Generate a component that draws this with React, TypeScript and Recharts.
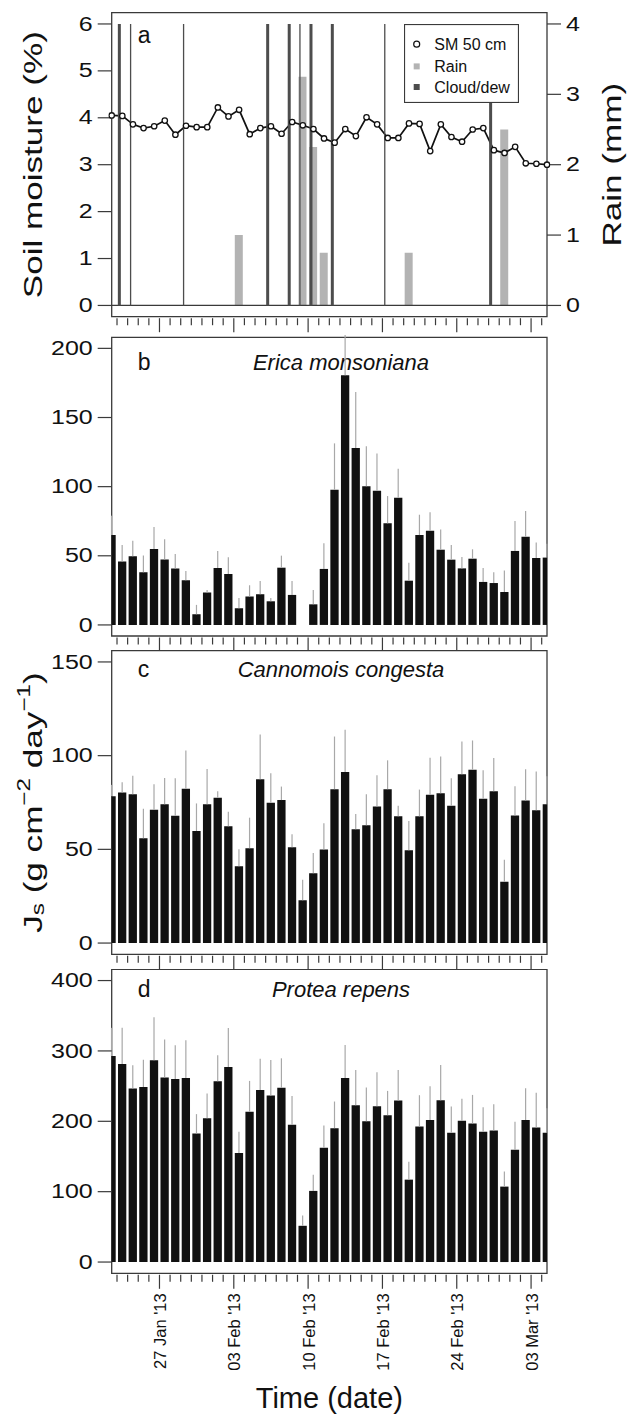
import React from 'react';
import {
  ComposedChart, Bar, Line, XAxis, YAxis, ErrorBar,
  ReferenceLine, ReferenceArea, Legend,
} from 'recharts';

const FONT = '"Liberation Sans", Arial, Helvetica, sans-serif';
const INK = '#111111';
const FRAME = '#3a3a3a';
const RAIN = '#b3b3b3';
const CLOUD = '#4d4d4d';
const ERR = '#a8a8a8';

// x = day number, 0 = 22 Jan 2013 ... 41 = 04 Mar 2013 (bar centres at noon)
const days = [
  0, 1, 2, 3, 4, 5, 6, 7, 8, 9, 10, 11, 12, 13, 14, 15, 16, 17, 18, 19, 20,
  21, 22, 23, 24, 25, 26, 27, 28, 29, 30, 31, 32, 33, 34, 35, 36, 37, 38, 39, 40, 41,
];
// midnight boundaries between days
const dayBoundaries = [
  0.5, 1.5, 2.5, 3.5, 4.5, 5.5, 6.5, 7.5, 8.5, 9.5, 10.5, 11.5, 12.5, 13.5, 14.5,
  15.5, 16.5, 17.5, 18.5, 19.5, 20.5, 21.5, 22.5, 23.5, 24.5, 25.5, 26.5, 27.5,
  28.5, 29.5, 30.5, 31.5, 32.5, 33.5, 34.5, 35.5, 36.5, 37.5, 38.5, 39.5, 40.5,
];
const majorTicks = [4.5, 11.5, 18.5, 25.5, 32.5, 39.5];
const majorTickLabels = ["27 Jan '13", "03 Feb '13", "10 Feb '13", "17 Feb '13", "24 Feb '13", "03 Mar '13"];

// panel a
const soilMoisture = [
  4.05, 4.04, 3.86, 3.78, 3.82, 3.94, 3.64, 3.83, 3.80, 3.80, 4.22, 4.03, 4.17, 3.65,
  3.78, 3.82, 3.66, 3.91, 3.84, 3.76, 3.56, 3.47, 3.76, 3.61, 4.01, 3.86, 3.57, 3.57,
  3.88, 3.87, 3.29, 3.86, 3.59, 3.49, 3.75, 3.78, 3.31, 3.25, 3.38, 3.03, 3.02, 3.00,
];
const rainMm = [
  0, 0, 0, 0, 0, 0, 0, 0, 0, 0, 0, 0, 1.0, 0, 0, 0, 0, 0, 3.25, 2.25, 0.75,
  0, 0, 0, 0, 0, 0, 0, 0.75, 0, 0, 0, 0, 0, 0, 0, 0, 2.5, 0, 0, 0, 0,
];
const cloudDewTime = [0.72, 1.78, 6.77, 14.69, 16.72, 17.73, 18.77, 20.78, 25.72, 35.69];
const cloudDewHeavy = [true, false, false, true, true, false, true, true, false, true];
const legendLabels = ['SM 50 cm', 'Rain', 'Cloud/dew'];

// panels b-d: daily mean Js and standard error
const ericaJs = [
  65.0, 45.8, 49.6, 38.1, 54.9, 47.4, 40.9, 32.3, 7.7, 23.4, 41.2, 36.8, 12.0, 20.5,
  22.2, 17.1, 41.4, 21.7, 0, 14.9, 40.5, 97.8, 180.6, 127.9, 100.2, 97.1, 73.5, 92.0,
  32.0, 65.0, 68.2, 54.4, 47.2, 40.9, 47.9, 31.1, 30.3, 23.8, 53.5, 63.8, 48.4, 48.7,
];
const ericaSe = [
  14, 12.0, 11.3, 12.2, 15.9, 14.5, 10.4, 6.7, 6.8, 1.9, 12.3, 12.1, 7.5, 8.2,
  9.6, 2.4, 8.7, 10.1, 8.4, 10.4, 18.5, 33.5, 33, 40.5, 29.1, 26.9, 19.7, 21.0,
  13.0, 14.7, 13.2, 14.7, 10.6, 8.2, 6.8, 10.1, 7.8, 15.5, 21.6, 18.6, 11.3, 10,
];
const cannomoisJs = [
  78.4, 80.3, 79.4, 55.9, 71.1, 74.0, 67.9, 82.3, 59.8, 74.0, 77.5, 62.3, 41.0, 50.6,
  87.4, 74.8, 76.3, 51.1, 22.8, 37.2, 49.9, 82.1, 91.3, 60.7, 62.8, 72.9, 82.1, 67.6,
  49.5, 67.6, 79.1, 80.0, 73.2, 90.1, 92.5, 77.0, 81.0, 32.7, 68.1, 76.1, 70.9, 74.0,
];
const cannomoisSe = [
  6, 5.5, 9.9, 15.8, 13.6, 14.1, 20.0, 20.5, 14.7, 18.9, 3.5, 7.8, 9.1, 16.3,
  23.9, 15.8, 7.2, 6.9, 11.0, 10.9, 14.0, 28.1, 22.5, 8.1, 16.6, 16.6, 15.4, 5.6,
  15.6, 14.3, 19.8, 19.6, 14.7, 17.5, 15.6, 15.2, 17.7, 11.7, 15.6, 16.6, 20.6, 15,
];
const proteaJs = [
  292.8, 281.5, 246.5, 248.9, 286.7, 262.1, 260.2, 261.6, 182.8, 204.5, 256.9, 277.2,
  154.9, 213.5, 244.6, 236.6, 247.5, 195.0, 51.5, 101.1, 162.5, 190.3, 261.6, 222.9,
  200.2, 221.5, 208.7, 229.5, 117.1, 192.7, 201.7, 230.0, 183.7, 200.7, 196.9, 185.1,
  187.0, 107.2, 159.6, 201.7, 191.3, 183.7,
];
const proteaSe = [
  40, 51.4, 33.1, 38.7, 61.3, 54.3, 47.7, 53.4, 27.4, 34.9, 36.8, 55.3,
  30.2, 43.9, 44.4, 50.5, 42.0, 41.1, 14.6, 23.1, 31.6, 37.8, 46.8, 50.1,
  47.7, 48.2, 34.5, 43.5, 25.5, 44.4, 48.1, 50.0, 37.3, 31.2, 40.6, 35.0,
  37.3, 21.3, 39.7, 45.3, 49.1, 35,
];

const smTicks = [0, 1, 2, 3, 4, 5, 6];
const rainTicks = [0, 1, 2, 3, 4];
const ericaTicks = [0, 50, 100, 150, 200];
const cannomoisTicks = [0, 50, 100, 150];
const proteaTicks = [0, 100, 200, 300, 400];

const panelAData = days.map((d, i) => ({
  day: d,
  sm: soilMoisture[i],
  rain: rainMm[i] > 0 ? rainMm[i] : null,
}));
const jsRows = (js: number[], se: number[]) =>
  days.map((d, i) => ({ day: d, js: js[i], se: [0, se[i]] }));

const DayTick = ({ x, y, payload, withLabels }: any) => {
  const k = majorTicks.indexOf(payload.value);
  const len = k >= 0 ? 14 : 7;
  return (
    <g>
      <line x1={x} x2={x} y1={y + 1.5} y2={y + 1.5 + len} stroke={FRAME} strokeWidth={1.2} />
      {withLabels && k >= 0 ? (
        <text
          transform={`translate(${x + 0.5},${y + 20}) rotate(-90)`}
          textAnchor="end"
          dominantBaseline="central"
          fontSize={16.5}
          fontFamily={FONT}
          fill={INK}
        >
          {majorTickLabels[k]}
        </text>
      ) : null}
    </g>
  );
};

const ValueTick = ({ x, y, payload, side }: any) => (
  <text
    transform={`translate(${x},${y}) scale(1.25,1)`}
    textAnchor={side === 'right' ? 'start' : 'end'}
    dominantBaseline="central"
    fontSize={20}
    fontFamily={FONT}
    fill={INK}
  >
    {payload.value}
  </text>
);

const rotatedTitle = (cx: (vb: any) => number, content: React.ReactNode) => (p: any) => {
  const vb = p.viewBox;
  if (!vb) return null;
  return (
    <text
      transform={`translate(${cx(vb)},${vb.y + vb.height / 2}) rotate(-90) scale(1.35,1)`}
      textAnchor="middle"
      dominantBaseline="central"
      fontSize={26}
      fontFamily={FONT}
      fill={INK}
    >
      {content}
    </text>
  );
};

const jsTitle = (
  <>
    <tspan>J</tspan>
    <tspan dy={5} fontSize={18}>s</tspan>
    <tspan dy={-5}> (g cm</tspan>
    <tspan dy={-9} fontSize={18}>−2</tspan>
    <tspan dy={9}> day</tspan>
    <tspan dy={-9} fontSize={18}>−1</tspan>
    <tspan dy={9}>)</tspan>
  </>
);

const panelText = (letter: string, species: string | null, dy: number) => (p: any) => {
  const vb = p.viewBox;
  if (!vb) return null;
  return (
    <g>
      <text x={vb.x + 26} y={vb.y + dy} fontSize={23} fontFamily={FONT} fill={INK}>
        {letter}
      </text>
      {species ? (
        <text
          x={vb.x + 229.3}
          y={vb.y + dy}
          textAnchor="middle"
          fontSize={22}
          fontStyle="italic"
          fontFamily={FONT}
          fill={INK}
        >
          {species}
        </text>
      ) : null}
    </g>
  );
};

const LegendBox = () => (
  <svg width={115} height={79} style={{ display: 'block' }}>
    <rect x={0.5} y={0.5} width={114} height={78} fill="#fff" stroke={FRAME} strokeWidth={1.2} />
    <circle cx={12.7} cy={20.2} r={3} fill="#fff" stroke={INK} strokeWidth={1.2} />
    <rect x={9.7} y={39.4} width={6} height={6} fill={RAIN} />
    <rect x={9.7} y={60} width={6} height={6} fill={CLOUD} />
    {legendLabels.map((t, i) => (
      <text key={t} x={30.3} y={[20.2, 42.4, 63][i]} dominantBaseline="central" fontSize={16} fontFamily={FONT} fill={INK}>
        {t}
      </text>
    ))}
  </svg>
);

const xAxisFor = (height: number, withLabels: boolean, label?: any) => (
  <XAxis
    dataKey="day"
    type="number"
    domain={[0, 41]}
    allowDataOverflow
    ticks={dayBoundaries}
    interval={0}
    tickSize={0}
    tickMargin={0}
    axisLine={false}
    tickLine={false}
    tick={<DayTick withLabels={withLabels} />}
    height={height}
    label={label}
  />
);

const PanelA = () => (
  <div style={{ position: 'absolute', left: 0, top: 0 }}>
    <ComposedChart width={631} height={335} data={panelAData} margin={{ top: 12.7, right: 0, bottom: 0, left: 0 }}>
      {xAxisFor(18.3, false)}
      <YAxis
        yAxisId="sm"
        type="number"
        domain={[-0.24, 6.24]}
        allowDataOverflow
        ticks={smTicks}
        interval={0}
        width={111.7}
        axisLine={false}
        tickSize={14}
        tickMargin={5}
        tickLine={{ stroke: FRAME, strokeWidth: 1.2 }}
        tick={<ValueTick side="left" />}
        label={rotatedTitle(() => 33.5, 'Soil moisture (%)')}
      />
      <YAxis
        yAxisId="rain"
        orientation="right"
        type="number"
        domain={[-0.16, 4.16]}
        allowDataOverflow
        ticks={rainTicks}
        interval={0}
        width={84}
        axisLine={false}
        tickSize={14}
        tickMargin={5}
        tickLine={{ stroke: FRAME, strokeWidth: 1.2 }}
        tick={<ValueTick side="right" />}
        label={rotatedTitle((vb) => vb.x + 65, 'Rain (mm)')}
      />
      <ReferenceLine yAxisId="sm" y={0} stroke={FRAME} strokeWidth={1.2} />
      <Line
        yAxisId="sm"
        dataKey="sm"
        stroke={INK}
        strokeWidth={1.7}
        dot={{ r: 2.7, fill: '#fff', stroke: INK, strokeWidth: 1.3, clipDot: false }}
        activeDot={false}
        isAnimationActive={false}
      />
      <Bar yAxisId="rain" dataKey="rain" fill={RAIN} barSize={8} isAnimationActive={false} />
      {cloudDewTime.map((t, i) => (
        <ReferenceLine
          key={t}
          yAxisId="rain"
          segment={[{ x: t, y: 0 }, { x: t, y: 4 }]}
          stroke={CLOUD}
          strokeWidth={cloudDewHeavy[i] ? 3 : 1.3}
        />
      ))}
      <ReferenceArea
        yAxisId="sm"
        x1={0}
        x2={41}
        y1={-0.24}
        y2={6.24}
        fill="none"
        stroke={FRAME}
        strokeWidth={1.3}
        label={panelText('a', null, 30.6)}
      />
      <Legend
        content={LegendBox}
        layout="vertical"
        align="center"
        verticalAlign="middle"
        wrapperStyle={{ left: 404, top: 24.3, width: 115, height: 79 }}
      />
    </ComposedChart>
  </div>
);

type JsPanelProps = {
  top: number;
  height: number;
  plotTop: number;
  axisHeight: number;
  rows: any[];
  domain: [number, number];
  ticks: number[];
  letter: string;
  species: string;
  textDy: number;
  yLabel?: any;
  withDates?: boolean;
  xLabel?: any;
};

const JsPanel = ({ top, height, plotTop, axisHeight, rows, domain, ticks, letter, species, textDy, yLabel, withDates = false, xLabel }: JsPanelProps) => (
  <div style={{ position: 'absolute', left: 0, top }}>
    <ComposedChart width={631} height={height} data={rows} margin={{ top: plotTop, right: 84, bottom: 0, left: 0 }}>
      {xAxisFor(axisHeight, withDates, xLabel)}
      <YAxis
        type="number"
        domain={domain}
        allowDataOverflow
        ticks={ticks}
        interval={0}
        width={111.7}
        axisLine={false}
        tickSize={14}
        tickMargin={5}
        tickLine={{ stroke: FRAME, strokeWidth: 1.2 }}
        tick={<ValueTick side="left" />}
        label={yLabel}
      />
      <Bar dataKey="js" fill={INK} barSize={8.3} isAnimationActive={false}>
        <ErrorBar dataKey="se" direction="y" width={0} stroke={ERR} strokeWidth={1.2} />
      </Bar>
      <ReferenceArea
        x1={0}
        x2={41}
        y1={domain[0]}
        y2={domain[1]}
        fill="none"
        stroke={FRAME}
        strokeWidth={1.3}
        label={panelText(letter, species, textDy)}
      />
    </ComposedChart>
  </div>
);

const timeTitle = (p: any) => {
  const vb = p.viewBox;
  if (!vb) return null;
  return (
    <text x={vb.x + vb.width / 2} y={vb.y + 135} textAnchor="middle" fontSize={29} fontFamily={FONT} fill={INK}>
      Time (date)
    </text>
  );
};

export default function App() {
  return (
    <div style={{ position: 'absolute', left: 0, top: 0, width: 631, height: 1416, background: '#fff', fontFamily: FONT }}>
      <PanelA />
      <JsPanel
        top={335}
        height={315}
        plotTop={2.3}
        axisHeight={14}
        rows={jsRows(ericaJs, ericaSe)}
        domain={[-8, 208]}
        ticks={ericaTicks}
        letter="b"
        species="Erica monsoniana"
        textDy={32.8}
      />
      <JsPanel
        top={650}
        height={319}
        plotTop={0.7}
        axisHeight={14.7}
        rows={jsRows(cannomoisJs, cannomoisSe)}
        domain={[-6, 156]}
        ticks={cannomoisTicks}
        letter="c"
        species="Cannomois congesta"
        textDy={26.3}
        yLabel={rotatedTitle(() => 33, jsTitle)}
      />
      <JsPanel
        top={969}
        height={447}
        plotTop={0.3}
        axisHeight={142.7}
        rows={jsRows(proteaJs, proteaSe)}
        domain={[-16, 416]}
        ticks={proteaTicks}
        letter="d"
        species="Protea repens"
        textDy={27.5}
        withDates
        xLabel={timeTitle}
      />
    </div>
  );
}
